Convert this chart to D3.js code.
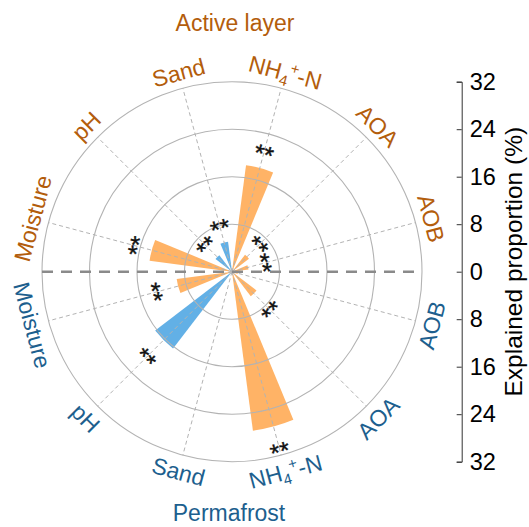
<!DOCTYPE html>
<html>
<head>
<meta charset="utf-8">
<script src="https://cdn.jsdelivr.net/npm/d3@7"></script>
<style>
  html, body { margin: 0; padding: 0; background: #fff; }
  svg { display: block; font-family: "Liberation Sans", Arial, sans-serif; }
</style>
</head>
<body>
<svg id="chart" width="529" height="527"></svg>
<script>
// Explanatory factors (same order in both soil layers)
const factors = ["Moisture", "pH", "Sand", "NH4+-N", "AOA", "AOB"];

// Explained proportion (%) for the active layer (upper half)
const activeValues = [14.0, 3.5, 5.1, 18.1, 3.6, 2.8];
const activeEffect = ["pos", "neg", "neg", "pos", "pos", "pos"];
const activeSig = ["**", "**", "**", "**", "**", "**"];

// Explained proportion (%) for the permafrost (lower half)
const permafrostValues = [9.4, 16.3, 0, 27.0, 5.2, 1.0];
const permafrostEffect = ["pos", "neg", "pos", "pos", "pos", "pos"];
const permafrostSig = ["**", "**", "", "**", "**", ""];

// Radial grid and axis ticks
const gridValues = [8, 16, 24, 32];
const axisTicks = [-32, -24, -16, -8, 0, 8, 16, 24, 32];

const svg = d3.select("#chart");
const cx = 232, cy = 271.7, R = 190;
const FONT = 23;

const colors = { pos: "#ffb366", neg: "#62b0e6" };
const activeText = "#b35d0c";
const permaText = "#1d5f8e";

const rScale = d3.scaleLinear().domain([0, 32]).range([0, R]);
// angle (degrees, counter-clockwise from +x) of each factor in the upper half
const angleScale = d3.scaleBand().domain(factors).range([180, 0]);
const mathAngle = (f, half) => (angleScale(f) + angleScale.bandwidth() / 2) * (half === "top" ? 1 : -1);
const toRad = d => d * Math.PI / 180;
const halfWidth = 7.5;

const rows = [];
factors.forEach((f, i) => {
  rows.push({ f, half: "top", value: activeValues[i], effect: activeEffect[i], sig: activeSig[i] });
  rows.push({ f, half: "bottom", value: permafrostValues[i], effect: permafrostEffect[i], sig: permafrostSig[i] });
});

const g = svg.append("g").attr("transform", `translate(${cx},${cy})`);

// Bars (wedges)
const arc = d3.arc().innerRadius(0);
g.append("g").selectAll("path")
  .data(rows.filter(d => d.value > 0))
  .join("path")
  .attr("d", d => {
    const a = 90 - mathAngle(d.f, d.half);
    return arc({ outerRadius: rScale(d.value), startAngle: toRad(a - halfWidth), endAngle: toRad(a + halfWidth) });
  })
  .attr("fill", d => colors[d.effect]);

// Grid circles
g.append("g").selectAll("circle")
  .data(gridValues)
  .join("circle")
  .attr("r", d => rScale(d))
  .attr("fill", "none")
  .attr("stroke", "#b3b3b3")
  .attr("stroke-width", 1.1);

// Spokes
g.append("g").selectAll("line")
  .data(rows)
  .join("line")
  .attr("x1", 0).attr("y1", 0)
  .attr("x2", d => rScale(32) * Math.cos(toRad(mathAngle(d.f, d.half))))
  .attr("y2", d => -rScale(32) * Math.sin(toRad(mathAngle(d.f, d.half))))
  .attr("stroke", "#b3b3b3")
  .attr("stroke-width", 1)
  .attr("stroke-dasharray", "4,3");

// Horizontal divider between the two layers
g.append("line")
  .attr("x1", -rScale(32)).attr("x2", rScale(32))
  .attr("y1", 0).attr("y2", 0)
  .attr("stroke", "#8a8a8a")
  .attr("stroke-width", 2.6)
  .attr("stroke-dasharray", "11,8");

const tangentRot = (theta, half) => half === "top" ? 90 - theta : -(90 + theta);

// Significance marks
const sigOffset = 3.4;
g.append("g").selectAll("text")
  .data(rows.filter(d => d.sig))
  .join("text")
  .attr("transform", d => {
    const th = mathAngle(d.f, d.half);
    const r = rScale(d.value + sigOffset);
    return `translate(${r * Math.cos(toRad(th))},${-r * Math.sin(toRad(th))}) rotate(${tangentRot(th, d.half)})`;
  })
  .attr("text-anchor", "middle")
  .attr("dy", "0.58em")
  .attr("font-size", 25)
  .attr("fill", "#111")
  .attr("stroke", "#111")
  .attr("stroke-width", 0.4)
  .text(d => d.sig);

// Factor labels
const labelG = g.append("g");
rows.forEach(d => {
  const th = mathAngle(d.f, d.half);
  const r = d.half === "top" ? 198 : 215;
  const t = labelG.append("text")
    .attr("transform", `translate(${r * Math.cos(toRad(th))},${-r * Math.sin(toRad(th))}) rotate(${tangentRot(th, d.half)})`)
    .attr("text-anchor", "middle")
    .attr("font-size", FONT)
    .attr("fill", d.half === "top" ? activeText : permaText);
  if (d.f === "NH4+-N") {
    t.append("tspan").text("NH");
    t.append("tspan").attr("font-size", 15).attr("dy", 5).text("4");
    t.append("tspan").attr("font-size", 15).attr("dy", -14).text("+");
    t.append("tspan").attr("dy", 9).text("-N");
  } else {
    t.text(d.f);
  }
});

// Layer titles
svg.append("text")
  .attr("x", cx + 3).attr("y", 31)
  .attr("text-anchor", "middle")
  .attr("font-size", FONT)
  .attr("fill", activeText)
  .text("Active layer");
svg.append("text")
  .attr("x", cx - 3).attr("y", 521)
  .attr("text-anchor", "middle")
  .attr("font-size", FONT)
  .attr("fill", permaText)
  .text("Permafrost");

// Right-hand scale axis
const yScale = d3.scaleLinear().domain([-32, 32]).range([cy + R, cy - R]);
const axis = d3.axisRight(yScale)
  .tickValues(axisTicks)
  .tickFormat(d => Math.abs(d))
  .tickSizeInner(-5)
  .tickSizeOuter(-5)
  .tickPadding(8);
const axG = svg.append("g")
  .attr("transform", `translate(461.7,0)`)
  .call(axis);
axG.selectAll("text").attr("font-size", 23.5).attr("font-family", "Liberation Sans, Arial, sans-serif").attr("fill", "#000");
axG.selectAll("line, path").attr("stroke", "#333").attr("stroke-width", 1);

svg.append("text")
  .attr("transform", `translate(522,${cy - 10}) rotate(-90)`)
  .attr("text-anchor", "middle")
  .attr("font-size", 24.5)
  .attr("fill", "#000")
  .text("Explained proportion (%)");
</script>
</body>
</html>
